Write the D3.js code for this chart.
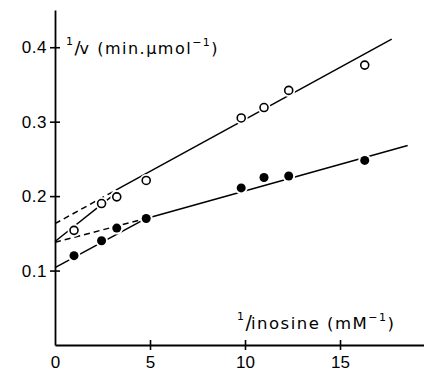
<!DOCTYPE html>
<html>
<head>
<meta charset="utf-8">
<script src="https://cdn.jsdelivr.net/npm/d3@7"></script>
<style>
  body { margin: 0; background: #fff; }
  svg { display: block; font-family: 'DejaVu Sans', sans-serif; }
</style>
</head>
<body>
<div id="chart"></div>
<script>
// 1/[inosine] (mM^-1) and 1/v values
const invInosine = [1, 2.45, 3.25, 4.8, 9.8, 11, 12.3, 16.3];
const openValues = [0.154, 0.19, 0.199, 0.221, 0.305, 0.319, 0.342, 0.376];
const filledValues = [0.12, 0.14, 0.157, 0.17, 0.211, 0.225, 0.227, 0.248];

// fitted lines, as [x, y] end points
const openLowFit = [[0, 0.139], [3.2, 0.204]];
const openExtrap = [[0, 0.163], [3.2, 0.208]];
const openHighFit = [[3.2, 0.208], [17.72, 0.411]];
const filledLowFit = [[0, 0.104], [4.8, 0.17]];
const filledExtrap = [[0, 0.138], [4.8, 0.17]];
const filledHighFit = [[4.8, 0.17], [18.56, 0.268]];

const xTicks = [0, 5, 10, 15];
const yTicks = [0.1, 0.2, 0.3, 0.4];

const W = 424, H = 372;
const svg = d3.select('#chart').append('svg').attr('width', W).attr('height', H);

const x = d3.scaleLinear().domain([0, 19.42]).range([55, 424]);
const y = d3.scaleLinear().domain([0, 0.45]).range([345, 10]);

// --- axes ---
const yAxis = d3.axisLeft(y).tickValues(yTicks).tickSizeInner(5).tickSizeOuter(0).tickPadding(3)
  .tickFormat(d3.format('.1f'));
const yG = svg.append('g').attr('transform', `translate(${x(0)},0)`).call(yAxis);
yG.select('.domain').attr('stroke', '#000').attr('stroke-width', 1.8);
yG.selectAll('.tick line').attr('x1', -5).attr('x2', 5).attr('stroke-width', 1.6);
yG.selectAll('.tick text').style('font-size', '17px').style('letter-spacing', '0.5px').attr('fill', '#000');

const xAxis = d3.axisBottom(x).tickValues(xTicks).tickSizeInner(5).tickSizeOuter(0).tickPadding(6);
const xG = svg.append('g').attr('transform', `translate(0,${y(0)})`).call(xAxis);
xG.select('.domain').attr('stroke', '#000').attr('stroke-width', 1.8);
xG.selectAll('.tick line').attr('y1', -5).attr('y2', 5).attr('stroke-width', 1.6)
  .attr('display', d => d === 0 ? 'none' : null);
xG.selectAll('.tick text').style('font-size', '17px').attr('fill', '#000');

// --- axis titles ---
const yTitle = svg.append('text').attr('x', 66).attr('y', 54)
  .style('font-size', '16px').style('letter-spacing', '1.5px');
yTitle.append('tspan').attr('dy', -9).style('font-size', '11px').text('1');
yTitle.append('tspan').attr('dy', 9).style('font-size', '18px').style('letter-spacing', '-1px').text('/');
yTitle.append('tspan').text('v (min.µmol');
yTitle.append('tspan').attr('dy', -8).style('font-size', '11px').text('−1');
yTitle.append('tspan').attr('dy', 8).text(')');

const xTitle = svg.append('text').attr('x', 237).attr('y', 329)
  .style('font-size', '16.5px').style('letter-spacing', '1.5px');
xTitle.append('tspan').attr('dy', -9).style('font-size', '11px').text('1');
xTitle.append('tspan').attr('dy', 9).style('font-size', '19px').style('letter-spacing', '-1px').text('/');
xTitle.append('tspan').text('inosine (mM');
xTitle.append('tspan').attr('dy', -8).style('font-size', '11px').text('−1');
xTitle.append('tspan').attr('dy', 8).text(')');

// --- fitted lines ---
const line = d3.line().x(d => x(d[0])).y(d => y(d[1]));
const fits = [
  { pts: openLowFit, dash: null },
  { pts: openExtrap, dash: '6,4' },
  { pts: openHighFit, dash: null },
  { pts: filledLowFit, dash: null },
  { pts: filledExtrap, dash: '6,4' },
  { pts: filledHighFit, dash: null }
];
svg.append('g').selectAll('path').data(fits).enter().append('path')
  .attr('d', d => line(d.pts)).attr('fill', 'none').attr('stroke', '#000')
  .attr('stroke-width', 1.5).attr('stroke-dasharray', d => d.dash);

// --- points (white halo gives the gap in the line) ---
const openPts = invInosine.map((v, i) => [v, openValues[i]]);
const filledPts = invInosine.map((v, i) => [v, filledValues[i]]);

const halo = svg.append('g');
halo.selectAll('.ho').data(openPts).enter().append('circle')
  .attr('cx', d => x(d[0])).attr('cy', d => y(d[1])).attr('r', 6.5).attr('fill', '#fff');
halo.selectAll('.hf').data(filledPts).enter().append('circle')
  .attr('cx', d => x(d[0])).attr('cy', d => y(d[1])).attr('r', 6.5).attr('fill', '#fff');

svg.append('g').selectAll('circle').data(openPts).enter().append('circle')
  .attr('cx', d => x(d[0])).attr('cy', d => y(d[1])).attr('r', 4)
  .attr('fill', '#fff').attr('stroke', '#000').attr('stroke-width', 1.6);
svg.append('g').selectAll('circle').data(filledPts).enter().append('circle')
  .attr('cx', d => x(d[0])).attr('cy', d => y(d[1])).attr('r', 4.5).attr('fill', '#000');
</script>
</body>
</html>
